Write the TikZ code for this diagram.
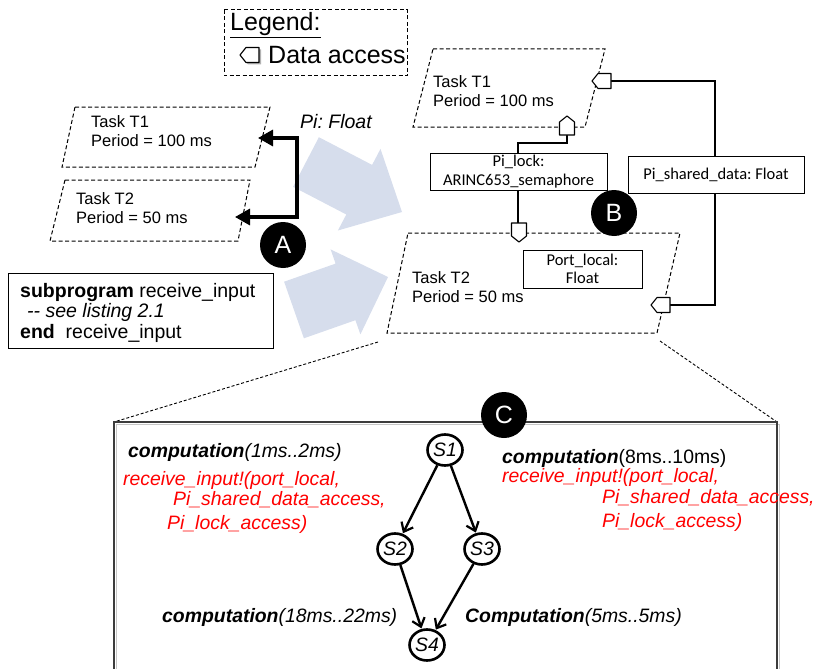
\documentclass[tikz,border=0pt]{standalone}
\usepackage{fontspec}
\setmainfont{Liberation Sans}
\newfontfamily\calib{Carlito}
\usetikzlibrary{arrows.meta,shapes.geometric}
\definecolor{bigarrow}{RGB}{214,221,236}
\definecolor{boxline}{RGB}{60,60,60}
\newcommand\tasktxt{\fontsize{16.5}{18.5}\selectfont}
\newcommand\boxtxt{\calib\fontsize{16.5}{18.5}\selectfont}
\newcommand\ctxt{\fontsize{19.4}{21}\selectfont}
\frenchspacing
\begin{document}
\begin{tikzpicture}[x=1pt,y=-1pt,
  taskshape/.style={draw,line width=1pt,dash pattern=on 4pt off 2.5pt},
  plainbox/.style={draw,line width=1pt,inner sep=1pt,align=center,font=\boxtxt},
  link/.style={draw,line width=1.1pt},
  badge/.style={circle,fill=black,minimum size=46pt,inner sep=0pt,text=white,font=\fontsize{25}{25}\selectfont},
  stnode/.style={ellipse,draw,line width=2.6pt,minimum width=35pt,minimum height=31pt,inner sep=0pt,font=\ctxt\itshape},
  trans/.style={line width=2.4pt,-{Straight Barb[length=8pt,width=13pt,line width=2.2pt]},shorten >=0.5pt},
  zoomline/.style={line width=0.9pt,dash pattern=on 3pt off 2pt},
  txt/.style={anchor=west,inner sep=0pt},
  dacc/.pic={\draw[fill=white,line width=1.1pt,line join=round] (0,0) -- (6,-7.5) -- (19,-7.5) -- (19,7.5) -- (6,7.5) -- cycle;}
]
\useasboundingbox (0,0) rectangle (814,669);

% big light arrows
\fill[bigarrow] (318.9,137.2) -- (372.1,164.9) -- (380.5,148.9) -- (402,212) -- (337.9,230.5) -- (346.3,214.5) -- (293.1,186.8) -- cycle;
\fill[bigarrow] (284.1,281.7) -- (335.6,263.6) -- (330.6,249.4) -- (388,277) -- (360.4,334.4) -- (355.4,320.2) -- (303.9,338.3) -- cycle;

% legend
\draw[taskshape] (224,10) rectangle (407,76);
\node[txt,font=\fontsize{25}{25}\selectfont] (legtitle) at (230,25) {\underline{Legend:}};
\fill[gray!60] (242,57) -- (248,49.5) -- (261,49.5) -- (261,64.5) -- (248,64.5) -- cycle;
\pic at (240,55) {dacc};
\node[txt,font=\fontsize{25}{25}\selectfont] (legdata) at (268,55) {Data access};

% left tasks (A)
\draw[taskshape] (75,107) -- (270,107) -- (255,167) -- (62,167) -- cycle;
\node[txt,align=left,font=\tasktxt] (t1a) at (91,131) {Task T1\\Period = 100 ms};
\draw[taskshape] (65,180) -- (250,180) -- (238,241) -- (50,241) -- cycle;
\node[txt,align=left,font=\tasktxt] (t2a) at (76,208) {Task T2\\Period = 50 ms};
\coordinate (a1) at (258,138);
\coordinate (a2) at (235,217);
\draw[line width=3.2pt,line join=miter,{Triangle[length=15pt,width=16pt]}-{Triangle[length=15pt,width=16pt]}] (a1) -- (297,138) -- (297,217) -- (a2);
\node[font=\fontsize{19.5}{20}\selectfont\itshape] (pifloat) at (336,122) {Pi: Float};
\node[badge] (A) at (283,245) {A};

% subprogram box
\draw[line width=1pt] (8,273) rectangle (273,348);
\node[txt,font=\fontsize{19.5}{20}\selectfont] (sp1) at (20,292) {\textbf{subprogram} receive\_input};
\node[txt,font=\fontsize{19.5}{20}\selectfont\itshape] (sp2) at (27,312) {-{}- see listing 2.1};
\node[txt,font=\fontsize{19.5}{20}\selectfont] (sp3) at (20,333) {\textbf{end}\ \ receive\_input};

% right tasks (B)
\draw[taskshape] (433,49) -- (605,49) -- (585,127) -- (413,127) -- cycle;
\node[txt,align=left,font=\tasktxt] (t1b) at (433,91) {Task T1\\Period = 100 ms};
\draw[taskshape] (408,233) -- (680,233) -- (657,333) -- (387,333) -- cycle;
\node[txt,align=left,font=\tasktxt] (t2b) at (412,287) {Task T2\\Period = 50 ms};

\node[plainbox,minimum width=177pt,minimum height=37pt] (lock) at (518.5,171.5) {Pi\_lock:\\ARINC653\_semaphore};
\node[plainbox,minimum width=176pt,minimum height=37pt] (shared) at (716,174.5) {Pi\_shared\_data: Float};
\node[plainbox,minimum width=119pt,minimum height=38pt] (port) at (582.5,269) {Port\_local:\\Float};

\coordinate (d1) at (611,81);
\coordinate (d2) at (567,135);
\coordinate (d3) at (519,223);
\coordinate (d4) at (670,305);
\draw[link] (d1) -- (715,81) -- (shared.north -| 715,0);
\draw[link] (shared.south -| 715,0) -- (715,305) -- (d4);
\draw[link] (d2) -- (567,143) -- (518,143) -- (lock.north -| 518,0);
\draw[link] (lock.south -| 518,0) -- (d3 -| 518,0);
\pic at (592,81) {dacc};
\pic[rotate=-90] at (567,116) {dacc};
\pic[rotate=90] at (519,242) {dacc};
\pic at (651,305) {dacc};
\node[badge] (B) at (614,213) {B};

% zoom lines
\coordinate (z1) at (378,342);
\coordinate (z2) at (660,341);
\coordinate (c1) at (114,422);
\coordinate (c2) at (777,422);
\draw[zoomline] (z1) -- (c1);
\draw[zoomline] (z2) -- (c2);

% box C
\draw[line width=1pt,gray!45] (116.5,690) -- (116.5,424.5) -- (779.5,424.5) -- (779.5,690);
\draw[line width=1.6pt,boxline] (114,690) -- (c1) -- (c2) -- (777,690);
\node[badge] (C) at (504,415) {C};

% state machine
\node[stnode] (S1) at (445,450) {S1};
\node[stnode] (S2) at (395,549) {S2};
\node[stnode] (S3) at (482,549) {S3};
\node[stnode] (S4) at (427,645) {S4};
\draw[trans] (S1) -- (S2);
\draw[trans] (S1) -- (S3);
\draw[trans] (S2) -- (S4);
\draw[trans] (S3) -- (S4);

\node[txt,font=\ctxt] (l1) at (128,452) {\textbf{\textit{computation}}\textit{(1ms..2ms)}};
\node[txt,font=\ctxt\itshape,text=red] (l2) at (123,480) {receive\_input!(port\_local,};
\node[txt,font=\ctxt\itshape,text=red] (l3) at (173,500) {Pi\_shared\_data\_access,};
\node[txt,font=\ctxt\itshape,text=red] (l4) at (167,524) {Pi\_lock\_access)};

\node[txt,font=\ctxt] (r1) at (502,458) {\textbf{\textit{computation}}(8ms..10ms)};
\node[txt,font=\ctxt\itshape,text=red] (r2) at (502,477) {receive\_input!(port\_local,};
\node[txt,font=\ctxt\itshape,text=red] (r3) at (602,498) {Pi\_shared\_data\_access,};
\node[txt,font=\ctxt\itshape,text=red] (r4) at (602,522) {Pi\_lock\_access)};

\node[txt,font=\ctxt] (b1) at (162,617) {\textbf{\textit{computation}}\textit{(18ms..22ms)}};
\node[txt,font=\ctxt] (b2) at (465,617) {\textbf{\textit{Computation}}\textit{(5ms..5ms)}};
\end{tikzpicture}
\end{document}
